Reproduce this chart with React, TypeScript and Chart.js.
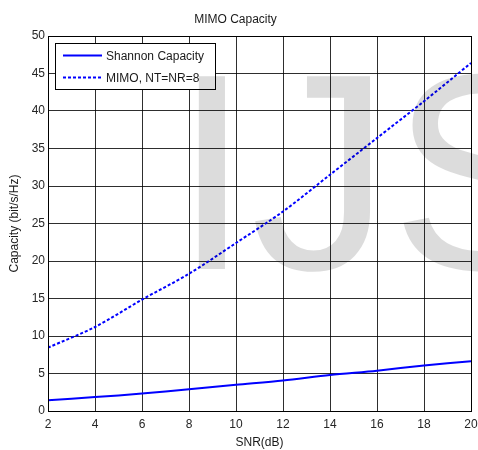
import React, { useEffect, useRef } from "react";
import { Chart, registerables } from "chart.js";

Chart.register(...registerables);

const snrDb = [2, 4, 6, 8, 10, 12, 14, 16, 18, 20];
const shannonCapacity = [1.42, 1.86, 2.32, 2.9, 3.5, 4.08, 4.8, 5.38, 6.07, 6.65];
const mimoCapacity = [8.45, 11.2, 14.85, 18.3, 22.4, 26.6, 31.5, 36.4, 41.3, 46.4];
const seriesLabels = ["Shannon Capacity", "MIMO, NT=NR=8"];
const chartTitle = "MIMO Capacity";
const xTitle = "SNR(dB)";
const yTitle = "Capacity (bit/s/Hz)";
const watermarkText = "IJS";

const FONT = '"Liberation Sans", Arial, sans-serif';

const framePlugin = {
  id: "frame",
  beforeDraw(chart: any) {
    const ctx = chart.ctx;
    ctx.save();
    ctx.fillStyle = "#ffffff";
    ctx.fillRect(0, 0, chart.width, chart.height);
    ctx.restore();
  },
  afterDraw(chart: any) {
    const { ctx, chartArea } = chart;
    const { left, right, top, bottom } = chartArea;
    ctx.save();
    // plot border
    ctx.strokeStyle = "#000000";
    ctx.lineWidth = 1;
    ctx.strokeRect(Math.round(left) + 0.5, Math.round(top) + 0.5, Math.round(right - left), Math.round(bottom - top));

    // legend
    const lx = Math.round(left) + 7;
    const ly = Math.round(top) + 7;
    const lw = 160;
    const lh = 46;
    ctx.fillStyle = "#ffffff";
    ctx.fillRect(lx, ly, lw, lh);
    ctx.strokeStyle = "#000000";
    ctx.lineWidth = 1;
    ctx.strokeRect(lx + 0.5, ly + 0.5, lw, lh);
    ctx.font = `12px ${FONT}`;
    ctx.textBaseline = "middle";
    ctx.textAlign = "left";
    chart.data.datasets.forEach((ds: any, i: number) => {
      const y = ly + 12.5 + i * 22;
      ctx.save();
      ctx.strokeStyle = ds.borderColor;
      ctx.lineWidth = ds.borderWidth;
      ctx.setLineDash(ds.borderDash || []);
      ctx.beginPath();
      ctx.moveTo(lx + 8, y);
      ctx.lineTo(lx + 47, y);
      ctx.stroke();
      ctx.restore();
      ctx.fillStyle = "#1a1a1a";
      ctx.fillText(ds.label, lx + 51, y + 1);
    });

    // watermark overlay
    ctx.globalCompositeOperation = "multiply";
    ctx.fillStyle = "#dcdcdc";
    ctx.font = `280px ${FONT}`;
    ctx.textBaseline = "alphabetic";
    ctx.textAlign = "left";
    ctx.fillText(watermarkText, 173, 269);
    ctx.restore();
  },
};

export default function App() {
  const canvasRef = useRef<HTMLCanvasElement | null>(null);

  useEffect(() => {
    if (!canvasRef.current) return;
    const chart = new Chart(canvasRef.current, {
      type: "line",
      data: {
        datasets: [
          {
            label: seriesLabels[0],
            data: snrDb.map((x, i) => ({ x, y: shannonCapacity[i] })),
            borderColor: "#0000ff",
            borderWidth: 2,
            pointRadius: 0,
            tension: 0.3,
            fill: false,
          },
          {
            label: seriesLabels[1],
            data: snrDb.map((x, i) => ({ x, y: mimoCapacity[i] })),
            borderColor: "#0000ff",
            borderWidth: 2,
            borderDash: [3, 2],
            pointRadius: 0,
            tension: 0.3,
            fill: false,
          },
        ],
      },
      options: {
        responsive: false,
        animation: false,
        layout: { padding: { left: 0, right: 7, top: 0, bottom: 0 } },
        plugins: {
          legend: { display: false },
          tooltip: { enabled: false },
          title: {
            display: true,
            text: chartTitle,
            color: "#1a1a1a",
            font: { family: FONT, size: 12, weight: "normal" },
            padding: { top: 12, bottom: 9.6 },
          },
        },
        scales: {
          x: {
            type: "linear",
            min: 2,
            max: 20,
            afterFit: (s: any) => {
              s.height = 39;
              s.paddingLeft = 0;
              s.paddingRight = 0;
            },
            ticks: {
              stepSize: 2,
              color: "#262626",
              padding: 6,
              maxRotation: 0,
              font: { family: FONT, size: 12 },
            },
            grid: { color: "rgba(0,0,0,0.82)", lineWidth: 1, drawTicks: false },
            border: { color: "#000000", width: 1 },
            title: {
              display: true,
              text: xTitle,
              color: "#1a1a1a",
              font: { family: FONT, size: 12 },
              padding: { top: 0, bottom: 0 },
            },
          },
          y: {
            type: "linear",
            min: 0,
            max: 50,
            afterFit: (s: any) => {
              s.width = 48;
              s.paddingTop = 0;
              s.paddingBottom = 0;
            },
            ticks: {
              stepSize: 5,
              color: "#262626",
              padding: 3,
              font: { family: FONT, size: 12 },
            },
            grid: { color: "rgba(0,0,0,0.82)", lineWidth: 1, drawTicks: false },
            border: { color: "#000000", width: 1 },
            title: {
              display: true,
              text: yTitle,
              color: "#1a1a1a",
              font: { family: FONT, size: 12 },
              padding: { top: 7, bottom: 0 },
            },
          },
        },
      },
      plugins: [framePlugin],
    });
    return () => chart.destroy();
  }, []);

  return (
    <div style={{ position: "fixed", left: 0, top: 0, width: 478, height: 450 }}>
      <canvas ref={canvasRef} width={478} height={450} style={{ display: "block" }} />
    </div>
  );
}
